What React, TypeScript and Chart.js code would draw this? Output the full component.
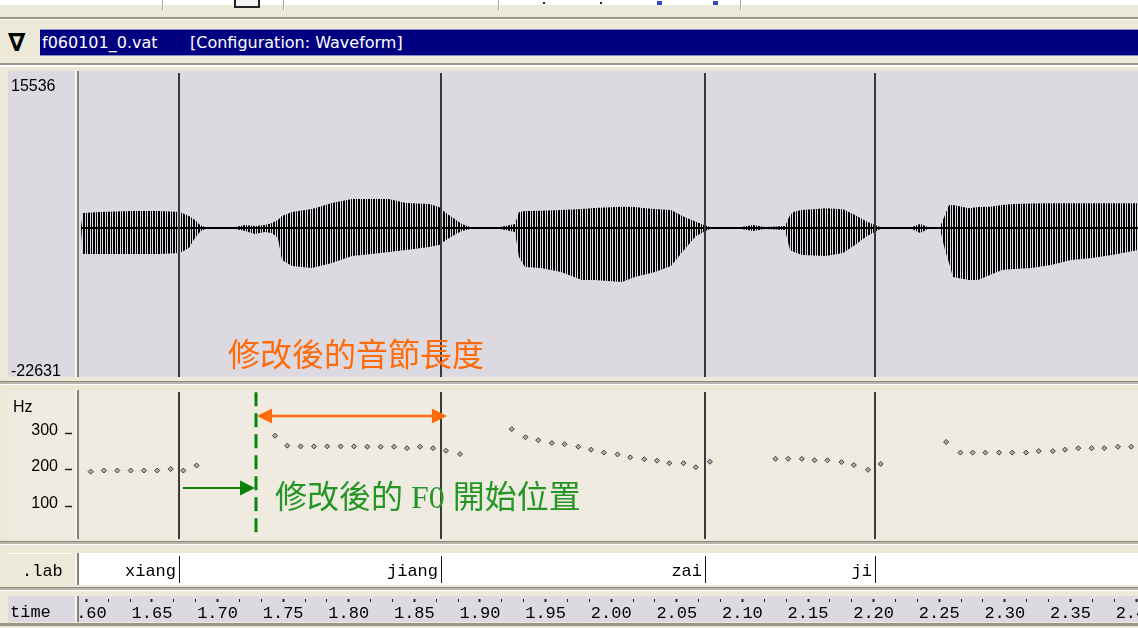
import React, { useEffect, useRef } from 'react';
import { Chart, registerables } from 'chart.js';

Chart.register(...registerables);

// ---------------- data ----------------
const timeMin = 1.5944;
const timeMax = 2.4015;

const segEnds = [1.6706, 1.8703, 2.0715, 2.2011, 2.419];
const segLabels = ['xiang', 'jiang', 'zai', 'ji', 'ji'];

const f0Times = [
  1.6033, 1.6134, 1.6236, 1.6338, 1.6439, 1.654, 1.6643, 1.6739, 1.684,
  1.7438, 1.7531, 1.7633, 1.7735, 1.7836, 1.7938, 1.804, 1.8141, 1.8243, 1.8345, 1.8444, 1.8543, 1.8642, 1.8741, 1.8848,
  1.9242, 1.9347, 1.9444, 1.9548, 1.9645, 1.9749, 1.9846, 1.9944, 2.0048, 2.0145, 2.0252, 2.0349, 2.0443, 2.0551, 2.0645, 2.0752,
  2.1252, 2.1349, 2.1453, 2.155, 2.1648, 2.1755, 2.1849, 2.1957, 2.2054,
  2.2553, 2.2662, 2.2755, 2.2852, 2.2956, 2.3057, 2.3162, 2.3258, 2.3366, 2.3459, 2.356, 2.3661, 2.3758, 2.3862, 2.3963,
];
const f0Values = [
  195, 198, 198, 198, 198, 198, 202, 198, 212,
  293, 266, 264, 264, 264, 264, 264, 263, 263, 263, 259, 263, 259, 252, 243,
  311, 289, 281, 273, 270, 263, 255, 247, 242, 234, 229, 225, 218, 218, 207, 222,
  230, 230, 230, 226, 226, 221, 213, 200, 216,
  276, 247, 247, 247, 247, 247, 247, 251, 251, 255, 259, 259, 259, 263, 263,
];

const waveTimes = [
  1.5959, 1.5974, 1.6104, 1.6332, 1.6561, 1.6713, 1.6782, 1.6828, 1.6866, 1.6904,
  1.7133, 1.7209, 1.7285, 1.7361, 1.7415, 1.746, 1.7491, 1.7567, 1.772, 1.7872,
  1.8024, 1.8177, 1.8306, 1.8436, 1.8611, 1.8688, 1.8741, 1.8817, 1.8863, 1.8924,
  1.9152, 1.9267, 1.9297, 1.9343, 1.9465, 1.9617, 1.9777, 1.9869, 2.0082, 2.0181,
  2.0242, 2.0334, 2.0456, 2.0555, 2.0646, 2.0707, 2.0753, 2.0989, 2.1081, 2.1172,
  2.1325, 2.1363, 2.1393, 2.1454, 2.1637, 2.1767, 2.1858, 2.195, 2.2011, 2.2049,
  2.2293, 2.2354, 2.2415, 2.2506, 2.2544, 2.2575, 2.2605, 2.2727, 2.2796, 2.2887,
  2.2979, 2.307, 2.32, 2.3352, 2.3505, 2.3665, 2.3817, 2.4015,
];
const waveHigh = [
  100, 1500, 1600, 1700, 1700, 1600, 1200, 800, 300, 100,
  100, 300, 200, 300, 500, 800, 1200, 1600, 1900, 2500,
  2900, 2900, 2900, 2500, 2400, 2100, 1500, 800, 400, 100,
  100, 400, 1600, 1700, 1730, 1800, 1900, 2000, 2130, 2100,
  2000, 1900, 1800, 1130, 630, 300, 100, 100, 300, 100,
  200, 1300, 1630, 1800, 1970, 1870, 1300, 630, 300, 100,
  100, 400, 100, 100, 1300, 2300, 2300, 1970, 2100, 2130,
  2300, 2400, 2450, 2470, 2470, 2470, 2470, 2470,
];
const waveLow = [
  -100, -2600, -2600, -2600, -2600, -2500, -2000, -1000, -400, -100,
  -100, -300, -600, -400, -500, -1000, -3200, -3800, -4000, -3500,
  -2800, -2600, -2400, -2200, -1900, -1700, -1200, -600, -300, -100,
  -100, -400, -2900, -3900, -4000, -4400, -5200, -5200, -5400, -4900,
  -4700, -4400, -3800, -2200, -800, -400, -100, -100, -300, -100,
  -200, -2200, -2400, -2700, -2800, -2500, -1700, -800, -400, -100,
  -100, -500, -100, -100, -2200, -3500, -4900, -5200, -5200, -4700,
  -4200, -4100, -4000, -3700, -3200, -3000, -2700, -2200,
];

const waveTickValues = [15536, -22631];
const f0TickValues = [100, 200, 300];
const timeTickLabels = [
  '1.60', '1.65', '1.70', '1.75', '1.80', '1.85', '1.90', '1.95', '2.00',
  '2.05', '2.10', '2.15', '2.20', '2.25', '2.30', '2.35', '2.40',
];
const minorPerMajor = 3;

// annotation positions (data units)
const f0StartTime = 1.7293; // modified F0 start (green dashed line)
const sylEndTime = 1.8748; // modified syllable end
const greenArrowFrom = 1.6736;
const dashTopHz = 412;
const dashBottomHz = 22;
const orangeArrowHz = 347;
const greenArrowHz = 150;

// ---------------- styles ----------------
const GREEN = '#0B830B';
const ORANGE = '#FF6A0A';
const PANE_GRAY = '#DCDAE0';
const PANE_BEIGE = '#EFEBE1';
const PAGE_BEIGE = '#ECE9D8';

function drawArrowHead(ctx: CanvasRenderingContext2D, tipX: number, y: number, dir: number, len: number, half: number) {
  ctx.beginPath();
  ctx.moveTo(tipX, y);
  ctx.lineTo(tipX - dir * len, y - half);
  ctx.lineTo(tipX - dir * len, y + half);
  ctx.closePath();
  ctx.fill();
}

function boundaryPlugin(id: string, color: string, width: number, insetTop: number, insetBottom: number) {
  return {
    id,
    afterDatasetsDraw(chart: any) {
      const { ctx, chartArea, scales } = chart;
      const x = scales.x;
      ctx.save();
      ctx.strokeStyle = color;
      ctx.lineWidth = width;
      segEnds.forEach((t) => {
        const px = Math.round(x.getPixelForValue(t)) + (width % 2 ? 0.5 : 0);
        ctx.beginPath();
        ctx.moveTo(px, chartArea.top + insetTop);
        ctx.lineTo(px, chartArea.bottom - insetBottom);
        ctx.stroke();
      });
      ctx.restore();
    },
  };
}

// remove the label overflow padding a scale asks the layout for
const noScalePadding = (s: any) => {
  s.paddingTop = 0;
  s.paddingBottom = 0;
  s.paddingLeft = 0;
  s.paddingRight = 0;
};

export default function App() {
  const waveRef = useRef<HTMLCanvasElement>(null);
  const f0Ref = useRef<HTMLCanvasElement>(null);
  const labRef = useRef<HTMLCanvasElement>(null);
  const timeRef = useRef<HTMLCanvasElement>(null);

  useEffect(() => {
    const charts: Chart[] = [];

    // ---------- waveform ----------
    const wctx = waveRef.current!.getContext('2d')!;
    const pc = document.createElement('canvas');
    pc.width = 5;
    pc.height = 1;
    const pctx = pc.getContext('2d')!;
    pctx.fillStyle = '#000';
    pctx.fillRect(0, 0, 2, 1);
    pctx.fillRect(3, 0, 1, 1);
    const stripes = wctx.createPattern(pc, 'repeat')!;

    charts.push(
      new Chart(wctx, {
        type: 'line',
        data: {
          datasets: [
            {
              data: waveTimes.map((t, i) => ({ x: t, y: waveHigh[i] })),
              borderColor: 'rgba(0,0,0,0)',
              borderWidth: 0,
              pointRadius: 0,
              fill: '+1',
              backgroundColor: stripes as any,
              yAxisID: 'y',
            },
            {
              data: waveTimes.map((t, i) => ({ x: t, y: waveLow[i] })),
              borderColor: 'rgba(0,0,0,0)',
              borderWidth: 0,
              pointRadius: 0,
              fill: false,
              yAxisID: 'y',
            },
            {
              data: [
                { x: waveTimes[0], y: 0 },
                { x: waveTimes[waveTimes.length - 1], y: 0 },
              ],
              borderColor: '#000',
              borderWidth: 2,
              pointRadius: 0,
              fill: false,
              yAxisID: 'y',
            },
          ],
        },
        options: {
          animation: false,
          responsive: false,
          maintainAspectRatio: false,
          layout: { padding: { left: 3, right: 0, top: 0, bottom: 0 }, autoPadding: false },
          plugins: { legend: { display: false }, tooltip: { enabled: false } },
          scales: {
            x: { type: 'linear', min: timeMin, max: timeMax, display: false },
            y: { min: -14900, max: 15700, display: false },
            yl: {
              position: 'left',
              min: -23301,
              max: 17679,
              afterBuildTicks: (s: any) => {
                s.ticks = waveTickValues.map((v) => ({ value: v }));
              },
              afterFit: (s: any) => {
                s.width = 68;
                noScalePadding(s);
              },
              grid: { display: false },
              border: { display: false },
              ticks: {
                crossAlign: 'far',
                padding: 0,
                color: '#000',
                font: { family: '"Liberation Sans", Arial, sans-serif', size: 16 },
                callback: (v: any) => String(v),
              },
            },
          } as any,
        },
        plugins: [boundaryPlugin('wb', '#3A3A3A', 2, 2, 0)],
      })
    );

    // ---------- F0 ----------
    const f0Annot = {
      id: 'f0Annot',
      afterDatasetsDraw(chart: any) {
        const { ctx, scales } = chart;
        const x = scales.x;
        const y = scales.y;
        const xs = x.getPixelForValue(f0StartTime);
        ctx.save();
        ctx.strokeStyle = GREEN;
        ctx.lineWidth = 3;
        ctx.setLineDash([14, 7]);
        ctx.beginPath();
        ctx.moveTo(xs, y.getPixelForValue(dashTopHz));
        ctx.lineTo(xs, y.getPixelForValue(dashBottomHz));
        ctx.stroke();
        ctx.setLineDash([]);
        const yo = y.getPixelForValue(orangeArrowHz);
        const xe = x.getPixelForValue(sylEndTime);
        ctx.strokeStyle = ORANGE;
        ctx.fillStyle = ORANGE;
        ctx.lineWidth = 2.5;
        ctx.beginPath();
        ctx.moveTo(xs + 10, yo);
        ctx.lineTo(xe - 10, yo);
        ctx.stroke();
        drawArrowHead(ctx, xs + 1, yo, -1, 15, 7.5);
        drawArrowHead(ctx, xe, yo, 1, 15, 7.5);
        const yg = y.getPixelForValue(greenArrowHz);
        const xg = x.getPixelForValue(greenArrowFrom);
        ctx.strokeStyle = GREEN;
        ctx.fillStyle = GREEN;
        ctx.lineWidth = 2;
        ctx.beginPath();
        ctx.moveTo(xg, yg);
        ctx.lineTo(xs - 10, yg);
        ctx.stroke();
        drawArrowHead(ctx, xs - 1, yg, 1, 15, 7.5);
        ctx.restore();
      },
    };

    charts.push(
      new Chart(f0Ref.current!.getContext('2d')!, {
        type: 'scatter',
        data: {
          datasets: [
            {
              data: f0Times.map((t, i) => ({ x: t, y: f0Values[i] })),
              pointStyle: 'rectRot',
              pointRadius: 2.5,
              borderWidth: 1,
              borderColor: '#3A3A3A',
              backgroundColor: '#B0AEA8',
            },
          ],
        },
        options: {
          animation: false,
          responsive: false,
          maintainAspectRatio: false,
          layout: { padding: 0, autoPadding: false },
          plugins: { legend: { display: false }, tooltip: { enabled: false } },
          scales: {
            x: { type: 'linear', min: timeMin, max: timeMax, display: false },
            y: {
              position: 'left',
              min: 11,
              max: 418,
              afterBuildTicks: (s: any) => {
                s.ticks = f0TickValues.map((v) => ({ value: v }));
              },
              afterFit: (s: any) => {
                s.width = 71;
                noScalePadding(s);
              },
              grid: {
                drawOnChartArea: false,
                drawTicks: true,
                tickLength: 14,
                tickWidth: 1.5,
                tickColor: '#222',
              },
              border: { display: false },
              ticks: {
                padding: 7,
                labelOffset: -3,
                color: '#000',
                font: { family: '"Liberation Sans", Arial, sans-serif', size: 16 },
                callback: (v: any) => String(v),
              },
            },
          } as any,
        },
        plugins: [boundaryPlugin('fb', '#3A3A3A', 2, 2, 0), f0Annot],
      })
    );

    // ---------- lab row ----------
    const labPlugin = {
      id: 'labText',
      afterDatasetsDraw(chart: any) {
        const { ctx, chartArea, scales } = chart;
        const x = scales.x;
        ctx.save();
        ctx.fillStyle = '#000';
        ctx.font = '17px "Liberation Mono", monospace';
        ctx.textAlign = 'right';
        ctx.textBaseline = 'middle';
        segEnds.forEach((t, i) => {
          const px = Math.round(x.getPixelForValue(t));
          ctx.fillText(segLabels[i], px - 3, chartArea.top + 18);
        });
        ctx.restore();
      },
    };
    charts.push(
      new Chart(labRef.current!.getContext('2d')!, {
        type: 'line',
        data: { datasets: [] },
        options: {
          animation: false,
          responsive: false,
          maintainAspectRatio: false,
          layout: { padding: 0, autoPadding: false },
          plugins: { legend: { display: false }, tooltip: { enabled: false } },
          scales: {
            x: { type: 'linear', min: timeMin, max: timeMax, display: false },
            y: { display: false },
          },
        } as any,
        plugins: [boundaryPlugin('lb', '#111', 1, 3, 2), labPlugin],
      })
    );

    // ---------- time axis ----------
    const timeMajor = timeTickLabels.map(Number);
    const majorIndex = (v: number) => timeMajor.findIndex((m) => Math.abs(m - v) < 1e-6);
    charts.push(
      new Chart(timeRef.current!.getContext('2d')!, {
        type: 'line',
        data: { datasets: [] },
        options: {
          animation: false,
          responsive: false,
          maintainAspectRatio: false,
          layout: { padding: 0, autoPadding: false },
          plugins: { legend: { display: false }, tooltip: { enabled: false } },
          scales: {
            x: {
              type: 'linear',
              position: 'bottom',
              min: timeMin,
              max: timeMax,
              afterBuildTicks: (s: any) => {
                const ticks: any[] = [];
                timeMajor.forEach((m, i) => {
                  ticks.push({ value: m });
                  if (i < timeMajor.length - 1) {
                    const step = (timeMajor[i + 1] - m) / minorPerMajor;
                    for (let k = 1; k < minorPerMajor; k++) ticks.push({ value: m + step * k });
                  }
                });
                s.ticks = ticks;
              },
              afterFit: (s: any) => {
                s.height = 23;
                noScalePadding(s);
              },
              grid: {
                drawOnChartArea: false,
                drawTicks: true,
                tickLength: 3,
                tickColor: '#222',
                tickWidth: (c: any) => (c.tick && majorIndex(c.tick.value) >= 0 ? 2 : 1),
              },
              border: { display: false },
              ticks: {
                autoSkip: false,
                maxRotation: 0,
                minRotation: 0,
                padding: 3,
                color: '#000',
                font: { family: '"Liberation Mono", monospace', size: 17, lineHeight: 1 },
                callback: (v: any) => {
                  const i = majorIndex(Number(v));
                  return i >= 0 ? timeTickLabels[i] : '';
                },
              },
            },
            y: { display: false },
          },
        } as any,
      })
    );

    return () => charts.forEach((c) => c.destroy());
  }, []);

  const abs = (l: number, t: number, w: number, h: number, bg?: string, extra: any = {}) => ({
    position: 'absolute' as const,
    left: l,
    top: t,
    width: w,
    height: h,
    background: bg,
    ...extra,
  });

  const hLine = (t: number) => [
    <div key={'a' + t} style={abs(0, t, 1138, 1, '#8A877D')} />,
    <div key={'b' + t} style={abs(0, t + 1, 1138, 2, '#B8B5AA')} />,
    <div key={'c' + t} style={abs(0, t + 3, 1138, 1, '#FFFFFF')} />,
  ];

  const sep = (t: number, h: number, gapBg: string) => [
    <div key={'g' + t} style={abs(72, t, 3, h, gapBg)} />,
    <div key={'s1' + t} style={abs(75, t, 2, h, '#F7F6F1')} />,
    <div key={'s2' + t} style={abs(77, t, 2, h, '#85837C')} />,
  ];

  const mono = '"Liberation Mono", "Courier New", monospace';

  // time canvas is taller than its row so the axis (max half the canvas) fits;
  // its empty chart area lies transparently over the lab row.
  const TIME_CANVAS_H = 50;
  const TIME_CANVAS_TOP = 599 - (TIME_CANVAS_H - 23);

  return (
    <div
      style={{
        position: 'fixed',
        left: 0,
        top: 0,
        width: 1138,
        height: 628,
        overflow: 'hidden',
        background: PAGE_BEIGE,
        fontFamily: '"Liberation Sans", Arial, sans-serif',
      }}
    >
      {/* top toolbar strip */}
      <div style={abs(0, 0, 1138, 5, '#FFFFFF')} />
      {[162, 283, 498, 740].map((x) => (
        <React.Fragment key={x}>
          <div style={abs(x, 0, 1, 10, '#ACA899')} />
          <div style={abs(x + 1, 0, 1, 10, '#FFFFFF')} />
        </React.Fragment>
      ))}
      <div style={abs(234, -8, 22, 12, undefined, { border: '2px solid #222', background: '#F4F4F4' })} />
      <div style={abs(543, 2, 2, 2, '#222')} />
      <div style={abs(600, 2, 2, 2, '#222')} />
      <div style={abs(657, 1, 5, 4, '#3048C8')} />
      <div style={abs(713, 1, 5, 4, '#3048C8')} />
      <div style={abs(0, 17, 1138, 2, '#9A968A')} />
      <div style={abs(0, 19, 1138, 1, '#FFFFFF')} />

      {/* title bar */}
      <div
        style={abs(8, 28, 28, 30, undefined, {
          fontFamily: '"DejaVu Sans", sans-serif',
          fontSize: 25,
          fontWeight: 'bold',
          lineHeight: '30px',
          color: '#000',
        })}
      >
        ∇
      </div>
      <div
        style={abs(40, 29, 1098, 27, '#000080', {
          borderTop: '1px solid #8C8CC8',
          borderBottom: '1px solid #8C8CC8',
          boxSizing: 'border-box',
          color: '#FFFFFF',
          fontFamily: '"DejaVu Sans", sans-serif',
          fontSize: 16,
          lineHeight: '25px',
          whiteSpace: 'pre',
        })}
      >
        <span style={{ position: 'absolute', left: 2 }}>f060101_0.vat</span>
        <span style={{ position: 'absolute', left: 150 }}>[Configuration: Waveform]</span>
      </div>
      <div style={abs(0, 63, 1138, 2, '#9A968A')} />
      <div style={abs(0, 65, 1138, 2, '#FFFFFF')} />

      {/* pane backgrounds */}
      <div style={abs(8, 71, 1130, 306, PANE_GRAY)} />
      {hLine(381)}
      <div style={abs(8, 390, 1130, 149, PANE_BEIGE)} />
      {hLine(541)}
      <div style={abs(8, 553, 67, 32, PAGE_BEIGE, { borderTop: '1px solid #FFF' })} />
      <div style={abs(79, 553, 1059, 32, '#FFFFFF')} />
      {hLine(587)}
      <div style={abs(8, 596, 1130, 26, PANE_GRAY)} />
      <div style={abs(0, 623, 1138, 3, '#9A968A')} />

      {/* charts */}
      <canvas ref={waveRef} width={1130} height={306} style={abs(8, 71, 1130, 306)} />
      <canvas ref={f0Ref} width={1130} height={149} style={abs(8, 390, 1130, 149)} />
      <canvas ref={labRef} width={1059} height={32} style={abs(79, 553, 1059, 32)} />
      <canvas
        ref={timeRef}
        width={1059}
        height={TIME_CANVAS_H}
        style={abs(79, TIME_CANVAS_TOP, 1059, TIME_CANVAS_H)}
      />

      {/* separators between label column and plots */}
      {sep(71, 306, PANE_GRAY)}
      {sep(390, 149, PANE_BEIGE)}
      {sep(553, 32, PAGE_BEIGE)}
      {sep(596, 26, PANE_GRAY)}

      {/* left labels */}
      <div style={abs(13, 398, 40, 18, undefined, { fontSize: 16, lineHeight: '18px', color: '#000' })}>Hz</div>
      <div style={abs(22, 562, 50, 20, undefined, { fontFamily: mono, fontSize: 17, lineHeight: '20px', color: '#000' })}>
        .lab
      </div>
      <div style={abs(10, 603, 60, 20, undefined, { fontFamily: mono, fontSize: 17, lineHeight: '20px', color: '#000' })}>
        time
      </div>

      {/* annotation texts */}
      <div
        style={abs(228, 336, 300, 32, undefined, {
          fontFamily: '"Noto Sans CJK TC", "Noto Sans CJK SC", sans-serif',
          fontSize: 32,
          lineHeight: '32px',
          color: ORANGE,
          whiteSpace: 'nowrap',
        })}
      >
        修改後的音節長度
      </div>
      <div
        style={abs(275, 481, 340, 32, undefined, {
          fontFamily: '"Liberation Serif", "Noto Sans CJK TC", serif',
          fontSize: 32,
          lineHeight: '32px',
          color: '#259625',
          whiteSpace: 'pre',
        })}
      >
        修改後的 F0 開始位置
      </div>
    </div>
  );
}
